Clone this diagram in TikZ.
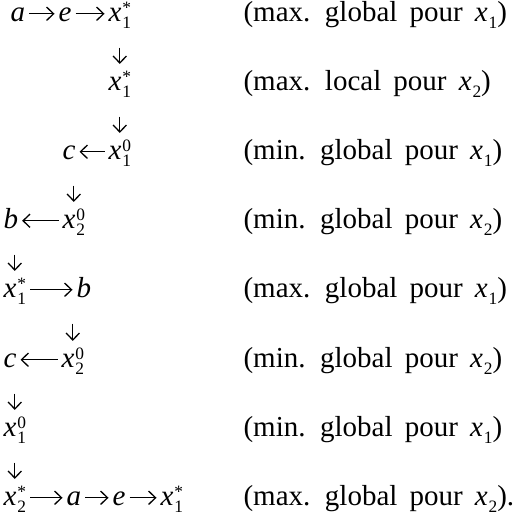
\documentclass[tikz,border=0pt]{standalone}
\usepackage{fontspec}
\setmainfont{Liberation Serif}
\usetikzlibrary{arrows.meta}
\newcommand{\scr}{\fontsize{6}{7}\selectfont}
\newcommand{\xs}[2]{\textit{x}\kern0.3pt\rlap{\raisebox{2.7pt}{\scr #2}}\raisebox{-2.6pt}{\scr #1}}
\newcommand{\xl}[1]{\textit{x}\kern0.3pt\raisebox{-2.6pt}{\scr #1}}
\newcommand{\vi}[1]{\textit{#1}}

\begin{document}
\begin{tikzpicture}[x=0.345pt,y=-0.345pt,>={Straight Barb[length=2.4pt,width=4.6pt]},
  v/.style={inner sep=0pt,text height=5pt,text depth=0pt,anchor=base west},
  lbl/.style={inner sep=0pt,anchor=base west,font={\spaceskip=4.2pt plus 1pt\relax}},
  harr/.style={->,line width=0.45pt,shorten <=1.2pt,shorten >=1.2pt},
  varr/.style={->,line width=0.45pt,shorten <=9pt,shorten >=3.8pt}]
\useasboundingbox (0,0) rectangle (515,517);
% row 1
\node[v] (a1) at (10,21) {\vi{a}};
\node[v] (e1) at (58,21) {\vi{e}};
\node[v] (x1) at (108,21) {\xs{1}{*}};
\node[lbl] (l1) at (243,21) {(max. global pour \xl{1})};
\draw[harr] (a1) -- (e1);
\draw[harr] (e1) -- (x1);
% row 2
\node[v] (x2) at (108,90) {\xs{1}{*}};
\node[lbl] (l2) at (243,90) {(max. local pour \xl{2})};
\draw[varr] (x1.south -| x2) -- (x2.north);
% row 3
\node[v] (c3) at (62,159) {\vi{c}};
\node[v] (x3) at (108,159) {\xs{1}{0}};
\node[lbl] (l3) at (243,159) {(min. global pour \xl{1})};
\draw[harr] (x3) -- (c3);
\draw[varr] (x2.south -| x3) -- (x3.north);
% row 4
\node[v] (b4) at (3,228) {\vi{b}};
\node[v] (x4) at (62,228) {\xs{2}{0}};
\node[lbl] (l4) at (243,228) {(min. global pour \xl{2})};
\draw[harr] (x4) -- (b4);
\draw[varr] (c3.south -| x4) -- (x4.north);
% row 5
\node[v] (x5) at (3,297) {\xs{1}{*}};
\node[v] (b5) at (76,297) {\vi{b}};
\node[lbl] (l5) at (243,297) {(max. global pour \xl{1})};
\draw[harr] (x5) -- (b5);
\draw[varr] (b4.south -| x5) -- (x5.north);
% row 6
\node[v] (c6) at (3,367) {\vi{c}};
\node[v] (x6) at (61,367) {\xs{2}{0}};
\node[lbl] (l6) at (243,367) {(min. global pour \xl{2})};
\draw[harr] (x6) -- (c6);
\draw[varr] (b5.south -| x6) -- (x6.north);
% row 7
\node[v] (x7) at (3,436) {\xs{1}{0}};
\node[lbl] (l7) at (243,436) {(min. global pour \xl{1})};
\draw[varr] (c6.south -| x7) -- (x7.north);
% row 8
\node[v] (x8) at (3,505) {\xs{2}{*}};
\node[v] (a8) at (66,505) {\vi{a}};
\node[v] (e8) at (112,505) {\vi{e}};
\node[v] (y8) at (160,505) {\xs{1}{*}};
\node[lbl] (l8) at (243,505) {(max. global pour \xl{2}).};
\draw[harr] (x8) -- (a8);
\draw[harr] (a8) -- (e8);
\draw[harr] (e8) -- (y8);
\draw[varr] (x7.south -| x8) -- (x8.north);
\end{tikzpicture}
\end{document}
